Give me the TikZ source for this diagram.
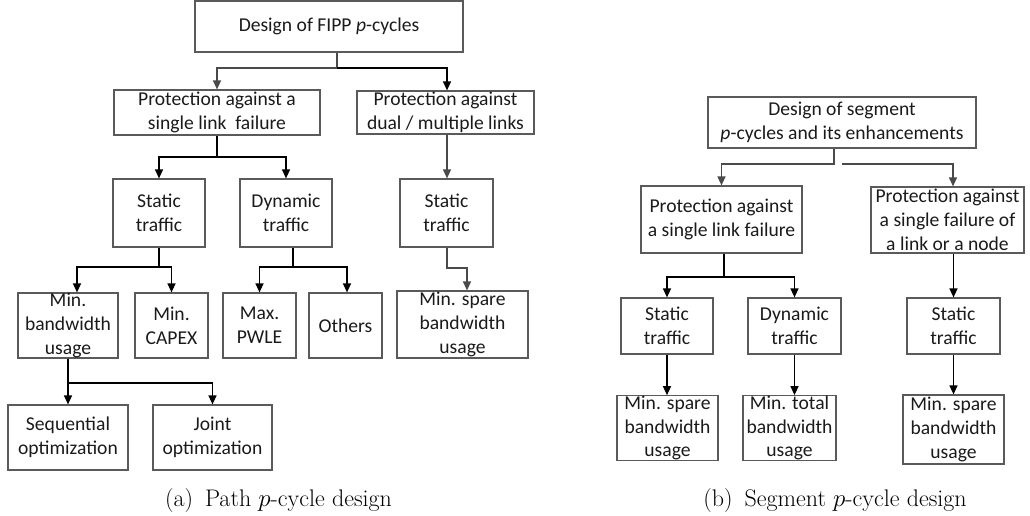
\documentclass[tikz,border=0pt]{standalone}
\usepackage{fontspec}
\usetikzlibrary{arrows.meta}
\newfontfamily\boxfont{Carlito}
\definecolor{edgegray}{HTML}{5A5A5A}
\definecolor{linkgray}{HTML}{4A4A4A}
\definecolor{inkdark}{HTML}{1A1A1A}
\tikzset{
  box/.style={draw=edgegray, line width=1.2pt, inner sep=0pt, align=center,
    text=inkdark, font=\boxfont\fontsize{19.6}{23.8}\selectfont},
  kline/.style={draw=black, line width=1.3pt},
  gline/.style={draw=linkgray, line width=1.3pt},
  tip/.style={-{Triangle[length=9pt,width=8pt]}},
  karrow/.style={kline, tip},
  garrow/.style={gline, tip},
  captext/.style={font=\fontsize{24}{29}\selectfont, inner sep=0pt, anchor=base}
}
\begin{document}
\begin{tikzpicture}[x=1pt, y=-1pt]
\useasboundingbox (0,0) rectangle (1030,516);

% ---------- (a) path p-cycle design ----------
\node[box, minimum width=268pt, minimum height=51pt] (ta) at (329,26.5) {Design of FIPP \textit{p}-cycles};
\node[box, minimum width=206pt, minimum height=45pt] (pa1) at (217,112.5) {Protection against a\\single link\ \ failure};
\node[box, minimum width=177pt, minimum height=43pt] (pa2) at (445.5,112.5) {Protection against\\dual / multiple links};
\node[box, minimum width=92pt, minimum height=68pt] (sa) at (159,213) {Static\\traffic};
\node[box, minimum width=92pt, minimum height=68pt] (da) at (286,213) {Dynamic\\traffic};
\node[box, minimum width=93pt, minimum height=68pt] (sa2) at (446.5,213) {Static\\traffic};
\node[box, minimum width=100pt, minimum height=65pt] (mb) at (68,325.5) {Min.\\bandwidth\\usage};
\node[box, minimum width=73pt, minimum height=65pt] (mc) at (171.5,325.5) {Min.\\CAPEX};
\node[box, minimum width=73pt, minimum height=65pt] (mp) at (259.5,325.5) {Max.\\PWLE};
\node[box, minimum width=73pt, minimum height=65pt] (ot) at (345.5,325.5) {Others};
\node[box, minimum width=131pt, minimum height=67pt] (ms) at (462.5,324.5) {Min. spare\\bandwidth\\usage};
\node[box, minimum width=120pt, minimum height=65pt] (sq) at (68,437.5) {Sequential\\optimization};
\node[box, minimum width=119pt, minimum height=65pt] (jo) at (212.5,437.5) {Joint\\optimization};

\coordinate (ja) at (337,68);
\draw[gline] (ta.south -| ja) -- (ja);
\draw[garrow] (ja) -| (pa1.north);
\draw[karrow] (ja) -| ([xshift=1.5pt]pa2.north);

\coordinate (jb) at (217,157);
\draw[kline] (pa1.south) -- (jb);
\draw[karrow] (jb) -| (sa.north);
\draw[karrow] (jb) -| (da.north);

\draw[garrow] ([xshift=1.5pt]pa2.south) -- ([xshift=0.5pt]sa2.north);

\coordinate (jc) at (159,267);
\draw[kline] (sa.south) -- (jc);
\draw[karrow] (jc) -| ([xshift=9pt]mb.north);
\draw[karrow] (jc) -| (mc.north);

\coordinate (jd) at (293,267);
\draw[kline] (da.south -| jd) -- (jd);
\draw[karrow] (jd) -| (mp.north);
\draw[karrow] (jd) -| ([xshift=1.5pt]ot.north);

\coordinate (je) at (467,268);
\draw[garrow] ([xshift=0.5pt]sa2.south) |- (je) -- (je |- ms.north);

\coordinate (jf) at (68,383);
\draw[kline] (mb.south) -- (jf);
\draw[karrow] (jf) -| (sq.north);
\draw[karrow] (jf) -| (jo.north);

\node[captext] (capa) at (278.5,506) {(a)\enspace Path $p$-cycle design};

% ---------- (b) segment p-cycle design ----------
\node[box, minimum width=268pt, minimum height=51pt] (tb) at (842,122.5) {Design of segment\\\textit{p}-cycles and its enhancements};
\node[box, minimum width=161pt, minimum height=67pt] (pb1) at (721.5,219.5) {Protection against\\a single link failure};
\node[box, minimum width=153pt, minimum height=66pt] (pb2) at (947.5,220) {Protection against\\a single failure of\\a link or a node};
\node[box, minimum width=92pt, minimum height=56pt] (sb) at (667,326) {Static\\traffic};
\node[box, minimum width=93pt, minimum height=56pt] (db) at (794.5,326) {Dynamic\\traffic};
\node[box, minimum width=93pt, minimum height=56pt] (sb2) at (953.5,326) {Static\\traffic};
\node[box, minimum width=101pt, minimum height=64pt] (mb1) at (667.5,428) {Min. spare\\bandwidth\\usage};
\node[box, minimum width=93pt, minimum height=64pt] (mt) at (789.5,428) {Min. total\\bandwidth\\usage};
\node[box, minimum width=101pt, minimum height=69pt] (ms2) at (953.5,429.5) {Min. spare\\bandwidth\\usage};

\coordinate (jg) at (834,164);
\coordinate (jh) at (842,164);
\draw[garrow] (tb.south -| jg) -- (jg) -| (pb1.north);
\draw[garrow] (jh) -| ([xshift=5.5pt]pb2.north);

\coordinate (ji) at (724,277);
\draw[kline] (pb1.south -| ji) -- (ji);
\draw[karrow] (ji) -| (sb.north);
\draw[karrow] (ji) -| (db.north);

\draw[karrow] (pb2.south -| sb2.north) -- (sb2.north);
\draw[karrow] (sb.south) -- (sb.south |- mb1.north);
\draw[karrow] (db.south) -- (db.south |- mt.north);
\draw[karrow] (sb2.south) -- (sb2.south |- ms2.north);

\node[captext] (capb) at (835,506) {(b)\enspace Segment $p$-cycle design};
\end{tikzpicture}
\end{document}
